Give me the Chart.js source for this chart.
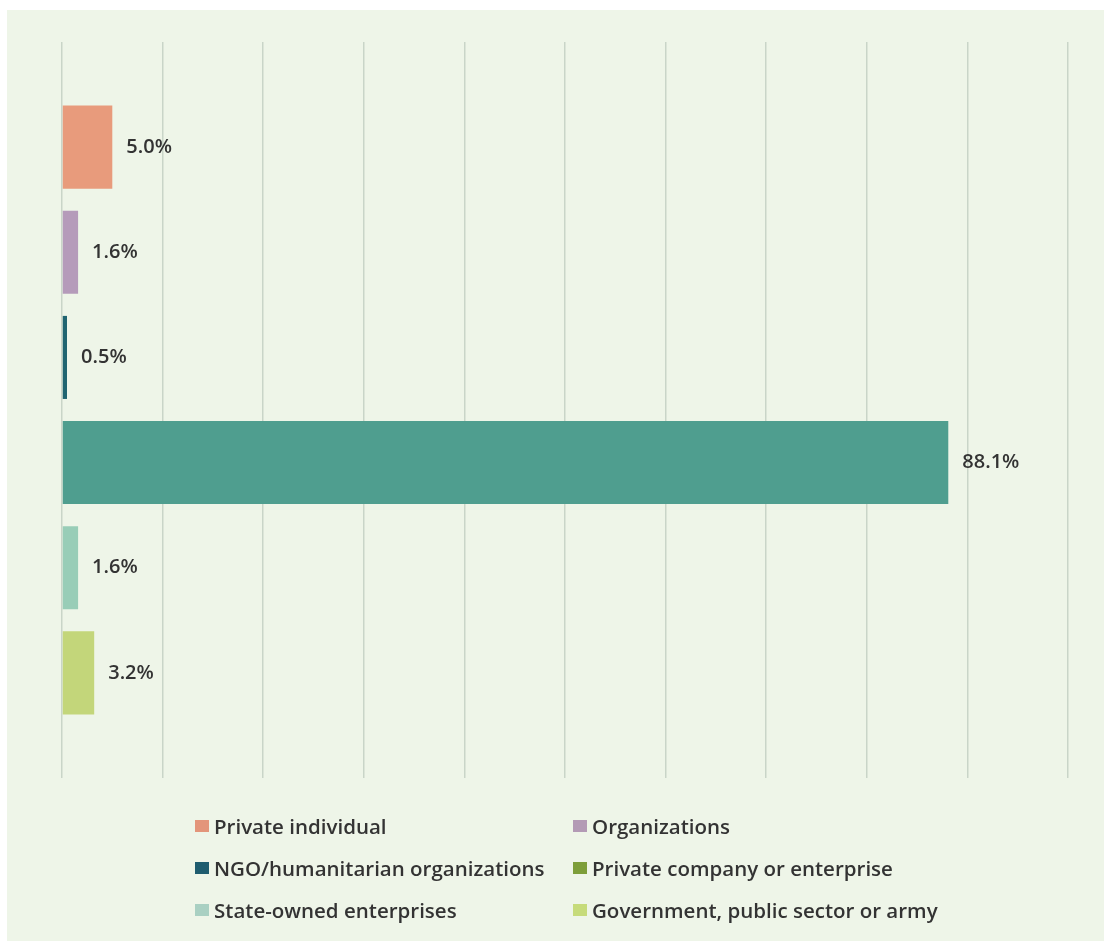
<!DOCTYPE html>
<html>
<head>
<meta charset="utf-8">
<script src="https://cdn.jsdelivr.net/npm/chart.js@4"></script>
<style>
  html, body { margin: 0; padding: 0; background: #ffffff; width: 1104px; height: 941px; overflow: hidden; }
  #panel { position: absolute; left: 7px; top: 10px; width: 1097px; height: 931px; background: #EEF5E8; }
  #wrap { position: absolute; left: 0; top: 0; width: 1104px; height: 941px; }
  #legend { position: absolute; left: 0; top: 0; width: 1104px; height: 941px; pointer-events: none;
            font-family: "Open Sans", sans-serif; font-size: 20.5px; font-weight: 600; color: #333; }
  .item { position: absolute; display: flex; align-items: center; height: 26px; white-space: nowrap; }
  .sw { width: 14px; height: 12px; margin-right: 5px; }
</style>
</head>
<body>
<div id="panel"></div>
<div id="wrap"><canvas id="c" width="1104" height="941"></canvas></div>
<div id="legend"></div>
<script>
// ---- data ----
const categories = [
  "Private individual",
  "Organizations",
  "NGO/humanitarian organizations",
  "Private company or enterprise",
  "State-owned enterprises",
  "Government, public sector or army"
];
const values = [5.0, 1.6, 0.5, 88.1, 1.6, 3.2];
const valueLabels = ["5.0%", "1.6%", "0.5%", "88.1%", "1.6%", "3.2%"];
const barColors = ["#E89B7C", "#B59BBA", "#1F6470", "#4F9E8F", "#98CDB7", "#C3D67A"];
const legendColors = ["#E3957A", "#B39AB5", "#1E5C6E", "#7D9E3A", "#A9D0C2", "#C6DB7A"];
const xTicks = [0, 10, 20, 30, 40, 50, 60, 70, 80, 90, 100];

// ---- value label plugin ----
const valueLabelPlugin = {
  id: 'valueLabels',
  afterDatasetsDraw(chart) {
    const ctx = chart.ctx;
    const meta = chart.getDatasetMeta(0);
    ctx.save();
    ctx.font = '600 20px "Open Sans", sans-serif';
    ctx.fillStyle = '#333333';
    ctx.textAlign = 'left';
    ctx.textBaseline = 'middle';
    meta.data.forEach((bar, i) => {
      ctx.fillText(valueLabels[i], bar.x + 14, bar.y);
    });
    ctx.restore();
  }
};

new Chart(document.getElementById('c'), {
  type: 'bar',
  data: {
    datasets: [{
      data: values.map((v, i) => ({ x: v, y: i })),
      backgroundColor: barColors,
      borderWidth: 0,
      categoryPercentage: 1,
      barPercentage: 0.79
    }]
  },
  options: {
    indexAxis: 'y',
    responsive: false,
    animation: false,
    layout: { padding: { left: 62, right: 36, top: 42, bottom: 163 } },
    plugins: { legend: { display: false }, tooltip: { enabled: false } },
    scales: {
      x: {
        type: 'linear',
        min: xTicks[0],
        max: xTicks[xTicks.length - 1],
        afterBuildTicks(scale) { scale.ticks = xTicks.map(v => ({ value: v })); },
        ticks: { display: false },
        grid: { color: '#C9D5C8', lineWidth: 1.5, drawTicks: false },
        border: { display: false }
      },
      y: {
        type: 'linear',
        min: -1,
        max: categories.length,
        reverse: true,
        offset: false,
        display: false
      }
    }
  },
  plugins: [valueLabelPlugin]
});

// ---- legend (two columns) ----
const legend = document.getElementById('legend');
const colX = [195, 573];
const rowY = [826, 868, 910];
categories.forEach((name, i) => {
  const el = document.createElement('div');
  el.className = 'item';
  el.style.left = colX[i % 2] + 'px';
  el.style.top = (rowY[Math.floor(i / 2)] - 13) + 'px';
  const sw = document.createElement('span');
  sw.className = 'sw';
  sw.style.background = legendColors[i];
  const tx = document.createElement('span');
  tx.textContent = name;
  el.appendChild(sw);
  el.appendChild(tx);
  legend.appendChild(el);
});
</script>
</body>
</html>
